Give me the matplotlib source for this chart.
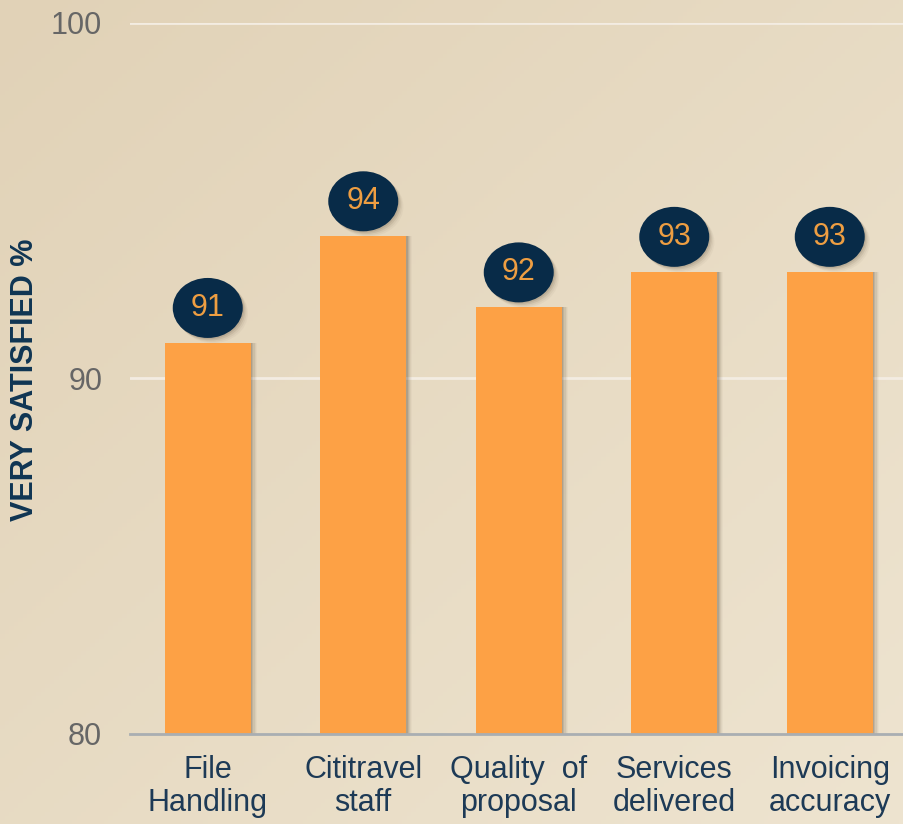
import matplotlib
matplotlib.use("Agg")
import matplotlib.pyplot as plt
from matplotlib.patches import Ellipse
import numpy as np

categories = ["File\nHandling", "Cititravel\nstaff", "Quality  of\nproposal", "Services\ndelivered", "Invoicing\naccuracy"]
values = [91, 94, 92, 93, 93]
yticks = [80, 90, 100]
ylabel = "VERY SATISFIED %"

plt.rcParams['font.family'] = ['Liberation Sans', 'DejaVu Sans']

W, H = 904, 824
fig = plt.figure(figsize=(W / 100, H / 100), dpi=100)

# background gradient
bg = fig.add_axes([0, 0, 1, 1], zorder=-10)
xx, yy = np.meshgrid(np.linspace(0, 1, 200), np.linspace(0, 1, 200))
t = (xx * 0.5 + yy * 0.5)
c0 = np.array([0xe1, 0xd2, 0xb7]) / 255.0
c1 = np.array([0xee, 0xe4, 0xd0]) / 255.0
img = c0[None, None, :] * (1 - t[..., None]) + c1[None, None, :] * t[..., None]
bg.imshow(img, extent=[0, 1, 0, 1], aspect='auto', origin='upper')
bg.axis('off')

left = 130 / W
bottom = (H - 734) / H
height = (734 - 23) / H
width = 777.5 / W
ax = fig.add_axes([left, bottom, width, height])
ax.set_facecolor('none')
ax.patch.set_alpha(0)

x = np.arange(len(categories))
bar_w = 0.555
px_per_unit_x = width * W / len(categories)
px_per_unit_y = height * H / (yticks[-1] - yticks[0])

# bar shadows
for k, a in enumerate([0.14, 0.11, 0.08, 0.05, 0.03]):
    off = (k + 1) * 1.2 / px_per_unit_x
    ax.bar(x + off, np.array(values) - yticks[0], bottom=yticks[0], width=bar_w,
           color='#4a3824', alpha=a, zorder=2, linewidth=0)
ax.bar(x, np.array(values) - yticks[0], bottom=yticks[0], width=bar_w, color='#FDA145', zorder=3, linewidth=0)

# ellipse labels
ew = 70 / px_per_unit_x
eh = 60 / px_per_unit_y
gap = 35 / px_per_unit_y
for xi, v in zip(x, values):
    cy = v + gap
    for k, a in enumerate([0.12, 0.09, 0.06, 0.04]):
        s = (k + 1) * 1.3
        ax.add_patch(Ellipse((xi + s / px_per_unit_x, cy - s / px_per_unit_y), ew, eh,
                             facecolor='#4a3a28', alpha=a, linewidth=0, zorder=4))
    ax.add_patch(Ellipse((xi, cy), ew, eh, facecolor='#082b48', linewidth=0, zorder=5))
    ax.text(xi, cy, f"{v}", ha='center', va='center', color='#EE9E42', fontsize=22, zorder=6)

ax.set_xlim(-0.5, len(categories) - 0.5)
ax.set_ylim(yticks[0], yticks[-1])
ax.set_yticks(yticks)
ax.set_yticklabels([str(v) for v in yticks], fontsize=22, color='#666666')
ax.set_xticks(x)
ax.set_xticklabels(categories, fontsize=22, color='#1d3a56', linespacing=1.15)
ax.tick_params(axis='both', length=0)
ax.tick_params(axis='y', pad=20)
ax.tick_params(axis='x', pad=15)

for yv in yticks[1:]:
    ax.axhline(yv, color='#f3ece2', lw=2, zorder=1)

for s in ['top', 'right', 'left']:
    ax.spines[s].set_visible(False)
ax.spines['bottom'].set_color('#a9aeb2')
ax.spines['bottom'].set_linewidth(2)
ax.spines['bottom'].set_zorder(7)

fig.text(25 / W, 1 - 380 / H, ylabel, rotation=90, ha='center', va='center',
         fontsize=22, fontweight='bold', color='#0f3553')

fig.savefig('out.png', dpi=100)
